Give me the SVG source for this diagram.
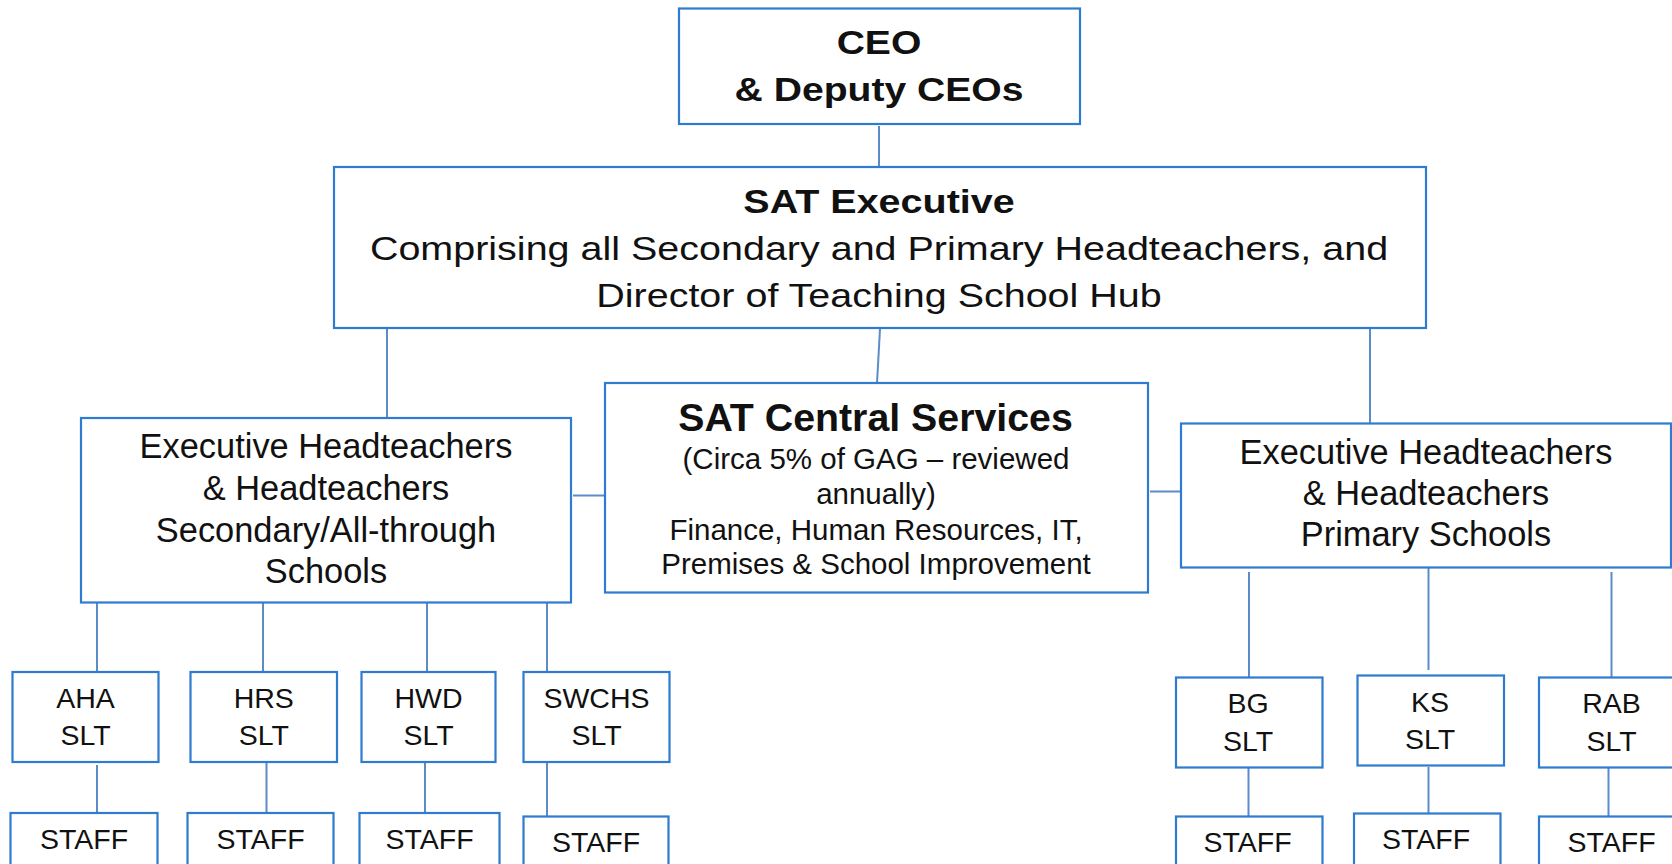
<svg xmlns="http://www.w3.org/2000/svg" width="1672" height="864" viewBox="0 0 1672 864">
<style>
.box{fill:#fff;stroke:#2E7BCF;stroke-width:2.2}
.con{stroke:#5B8CC8;stroke-width:2;fill:none}
text{font-family:"Liberation Sans",Arial,sans-serif;fill:#111;text-anchor:middle}
.b{font-weight:bold}
.f34{font-size:34.4px}
.f29{font-size:29.5px}
.f28{font-size:28.5px}
</style>
<rect width="1672" height="864" fill="#fff"/>
<g id="connectors">
<line class="con" x1="879" y1="126" x2="879" y2="167"/>
<line class="con" x1="387" y1="329" x2="387" y2="418"/>
<line class="con" x1="880" y1="329" x2="877" y2="383"/>
<line class="con" x1="1370" y1="329" x2="1370" y2="423"/>
<line class="con" x1="573" y1="495.5" x2="605" y2="495.5"/>
<line class="con" x1="1150" y1="491.5" x2="1181" y2="491.5"/>
<line class="con" x1="97" y1="603" x2="97" y2="672"/>
<line class="con" x1="263" y1="603" x2="263" y2="672"/>
<line class="con" x1="427" y1="603" x2="427" y2="672"/>
<line class="con" x1="547" y1="603" x2="547" y2="672"/>
<line class="con" x1="97" y1="765" x2="97" y2="813"/>
<line class="con" x1="266.5" y1="762" x2="266.5" y2="813"/>
<line class="con" x1="425" y1="762" x2="425" y2="813"/>
<line class="con" x1="547" y1="763" x2="547" y2="816"/>
<line class="con" x1="1249" y1="572" x2="1249" y2="677"/>
<line class="con" x1="1428.5" y1="566" x2="1428.5" y2="670"/>
<line class="con" x1="1611.5" y1="572" x2="1611.5" y2="677"/>
<line class="con" x1="1248.5" y1="766" x2="1248.5" y2="816"/>
<line class="con" x1="1428.5" y1="767" x2="1428.5" y2="817"/>
<line class="con" x1="1608.5" y1="768" x2="1608.5" y2="818"/>
</g>
<g id="ceo">
<rect class="box" x="679" y="8.5" width="401" height="115.5"/>
<text class="b" x="0" y="54" transform="translate(879,0) scale(1.15,1)" style="font-size:34px">CEO</text>
<text class="b" x="0" y="101" transform="translate(879,0) scale(1.15,1)" style="font-size:34px">&amp; Deputy CEOs</text>
</g>
<g id="sat-executive">
<rect class="box" x="334" y="167" width="1092" height="161"/>
<g transform="translate(879,0) scale(1.215,1)" style="font-size:32.5px">
<text class="b" x="0" y="213">SAT Executive</text>
<text x="0" y="260.5">Comprising all Secondary and Primary Headteachers, and</text>
<text x="0" y="307.5">Director of Teaching School Hub</text>
</g>
</g>
<g id="secondary-heads">
<rect class="box" x="81" y="418" width="490" height="184.5"/>
<text class="f34" x="326" y="458">Executive Headteachers</text>
<text class="f34" x="326" y="500">&amp; Headteachers</text>
<text class="f34" x="326" y="542">Secondary/All-through</text>
<text class="f34" x="326" y="583">Schools</text>
</g>
<g id="central-services">
<rect class="box" x="605" y="383" width="543" height="209.5"/>
<text class="b" x="875.5" y="431" style="font-size:39.3px">SAT Central Services</text>
<text class="f29" x="876" y="468.5">(Circa 5% of GAG – reviewed</text>
<text class="f29" x="876" y="503.5">annually)</text>
<text class="f29" x="876" y="539.5">Finance, Human Resources, IT,</text>
<text class="f29" x="876" y="574">Premises &amp; School Improvement</text>
</g>
<g id="primary-heads">
<rect class="box" x="1181" y="423.5" width="490" height="144"/>
<text class="f34" x="1426" y="464">Executive Headteachers</text>
<text class="f34" x="1426" y="505">&amp; Headteachers</text>
<text class="f34" x="1426" y="546">Primary Schools</text>
</g>
<g id="aha-slt">
<rect class="box" x="12.5" y="672" width="146" height="90"/>
<text class="f28" x="85.5" y="708">AHA</text>
<text class="f28" x="85.5" y="745">SLT</text>
</g>
<g id="hrs-slt">
<rect class="box" x="190.5" y="672" width="146.5" height="90"/>
<text class="f28" x="263.8" y="708">HRS</text>
<text class="f28" x="263.8" y="745">SLT</text>
</g>
<g id="hwd-slt">
<rect class="box" x="361.5" y="672" width="134" height="90"/>
<text class="f28" x="428.5" y="708">HWD</text>
<text class="f28" x="428.5" y="745">SLT</text>
</g>
<g id="swchs-slt">
<rect class="box" x="523.5" y="672" width="146" height="90"/>
<text class="f28" x="596.5" y="708">SWCHS</text>
<text class="f28" x="596.5" y="745">SLT</text>
</g>
<g id="aha-staff">
<rect class="box" x="10.5" y="813" width="147" height="70"/>
<text class="f28" x="84" y="848.5">STAFF</text>
</g>
<g id="hrs-staff">
<rect class="box" x="187.5" y="813" width="146" height="70"/>
<text class="f28" x="260.5" y="848.5">STAFF</text>
</g>
<g id="hwd-staff">
<rect class="box" x="359.5" y="813" width="140" height="70"/>
<text class="f28" x="429.5" y="848.5">STAFF</text>
</g>
<g id="swchs-staff">
<rect class="box" x="523.5" y="816.5" width="145" height="70"/>
<text class="f28" x="596" y="852">STAFF</text>
</g>
<g id="bg-slt">
<rect class="box" x="1176" y="677.5" width="146.5" height="90"/>
<text class="f28" x="1248" y="713">BG</text>
<text class="f28" x="1248" y="750.5">SLT</text>
</g>
<g id="ks-slt">
<rect class="box" x="1357.5" y="675.5" width="146.5" height="90"/>
<text class="f28" x="1430" y="711.5">KS</text>
<text class="f28" x="1430" y="749">SLT</text>
</g>
<g id="rab-slt">
<rect class="box" x="1539" y="677.5" width="146" height="90"/>
<text class="f28" x="1611.5" y="713">RAB</text>
<text class="f28" x="1611.5" y="750.5">SLT</text>
</g>
<g id="bg-staff">
<rect class="box" x="1176" y="816.5" width="146.5" height="70"/>
<text class="f28" x="1247.5" y="852">STAFF</text>
</g>
<g id="ks-staff">
<rect class="box" x="1354" y="813.5" width="146.5" height="70"/>
<text class="f28" x="1426" y="848.5">STAFF</text>
</g>
<g id="rab-staff">
<rect class="box" x="1539" y="816.5" width="146" height="70"/>
<text class="f28" x="1611.5" y="852">STAFF</text>
</g>
</svg>
